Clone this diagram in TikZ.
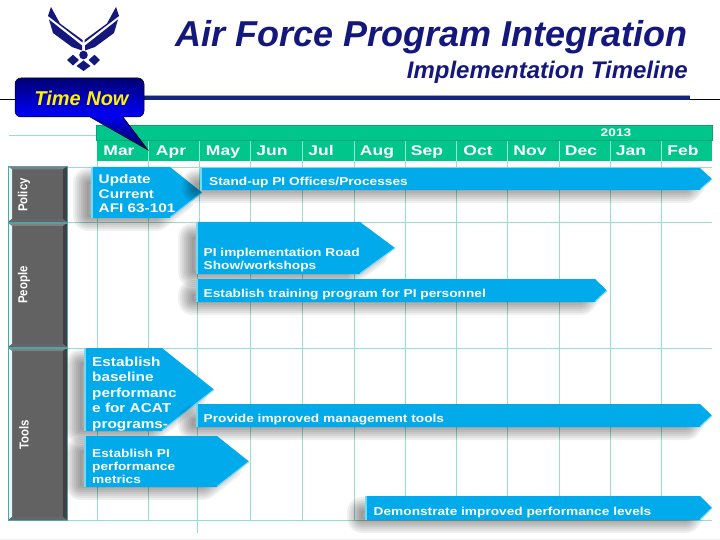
\documentclass[tikz,border=0pt]{standalone}
\usepackage{fontspec}
\setmainfont{Liberation Sans}
\usepackage{tikz}
\usetikzlibrary{positioning}
\definecolor{navyTitle}{RGB}{20,24,125}
\definecolor{ruleNavy}{RGB}{22,38,115}
\definecolor{headGreen}{RGB}{0,198,140}
\definecolor{gridGreen}{RGB}{150,222,205}
\definecolor{barBlue}{RGB}{0,170,235}
\definecolor{barEdge}{RGB}{110,220,250}
\definecolor{rowGrey}{RGB}{98,98,98}
\tikzstyle{gridline} = [gridGreen, line width=0.8pt]
\tikzstyle{titleText} = [navyTitle, font=\bfseries\itshape, inner sep=0pt]
\tikzstyle{monthSep} = [white!60!headGreen, line width=0.8pt]
\tikzstyle{monthText} = [white, font=\bfseries\fontsize{14}{14}\selectfont, xscale=1.25, inner sep=0pt, anchor=base]
\tikzstyle{rowText} = [white, font=\bfseries\fontsize{13}{13}\selectfont, rotate=90, xscale=0.88, inner sep=0pt]
\tikzstyle{taskText} = [white, font=\bfseries\fontsize{11.5}{13}\selectfont, align=left, anchor=west, xscale=1.19, inner sep=0pt]
\tikzstyle{bigTask} = [white, font=\bfseries\fontsize{13}{15.4}\selectfont, align=left, anchor=west, xscale=1.18, inner sep=0pt]
\newcommand{\taskbar}[5]{%
    \foreach \w in {30,26,22,18,14,10,6,2} {
        \draw [black, opacity=0.06, line width=\w pt, line join=round, xshift=-10pt, yshift=-5pt]
            (#1+7,#2+11) -- (#4-4,#2+11) -- (#5-12,{(#2+#3)/2}) -- (#4-4,#3-7) -- (#1+7,#3-7) -- cycle;
    }
    \fill [barBlue] (#1,#2) -- (#4,#2) -- (#5,{(#2+#3)/2}) -- (#4,#3) -- (#1,#3) -- cycle;
    \draw [barEdge, line width=2pt] (#1+1,#2) -- (#1+1,#3);
    \draw [barEdge, line width=1pt] (#5,{(#2+#3)/2}) -- (#4,#3-0.5);
}
\newcommand{\rowbox}[2]{%
    \fill [rowGrey] (8,#1) rectangle (67,#2);
    \fill [black!50] (8,#1) -- (12,#1+3) -- (63,#1+3) -- (67,#1) -- cycle;
    \fill [white!75!gridGreen] (8,#1) -- (12,#1+3) -- (12,#2-3) -- (8,#2) -- cycle;
    \fill [black!75] (67,#1) -- (63,#1+3) -- (63,#2-3) -- (67,#2) -- cycle;
    \fill [black!60] (8,#2) -- (12,#2-3) -- (63,#2-3) -- (67,#2) -- cycle;
    \draw [teal!70, line width=0.6pt] (8,#1) rectangle (67,#2);
}
\begin{document}
\begin{tikzpicture}[x=1pt, y=-1pt]
    \useasboundingbox (0,0) rectangle (720,540);
    \fill [black!6] (0,538.5) rectangle (720,540);

    \fill [navyTitle] (51,7) -- (48,16) -- (82.5,42.5) -- (82.5,40) -- (60,23.5) -- cycle;
    \fill [navyTitle] (49,19.5) -- (82,45.5) -- (82,50.5) -- (72,47) -- (53,33) -- cycle;
    \fill [navyTitle] (116,7) -- (119,16) -- (84.5,42.5) -- (84.5,40) -- (107,23.5) -- cycle;
    \fill [navyTitle] (118,19.5) -- (85,45.5) -- (85,50.5) -- (95,47) -- (114,33) -- cycle;
    \fill [navyTitle] (83.5,55) circle (4.3);
    \fill [navyTitle] (67,60) -- (73,54.8) -- (79,60) -- (73,65.5) -- cycle;
    \fill [navyTitle] (88.5,60) -- (94.5,54.8) -- (100,60) -- (94.5,65.5) -- cycle;
    \fill [navyTitle] (76.5,66) -- (83.5,60.5) -- (90.5,66) -- (83.5,71) -- cycle;

    \node (title) [titleText, anchor=base east, font=\bfseries\itshape\fontsize{36}{36}\selectfont] at (688,47) {Air Force Program Integration};
    \node (subtitle) [titleText, anchor=base east, font=\bfseries\itshape\fontsize{24}{24}\selectfont] at (688,79) {Implementation Timeline};

    \draw [black, line width=0.7pt] (0,99) -- (720,99);
    \fill [ruleNavy] (140,95) rectangle (690,100);
    \draw [blue!40, line width=0.6pt] (140,95) -- (690,95);

    \draw [gridline] (9,135) -- (97,135);
    \draw [gridline] (8,167) -- (712,167);
    \draw [gridline] (8,222.5) -- (712,222.5);
    \draw [gridline] (8,348) -- (712,348);
    \draw [gridline] (8,520) -- (712,520);
    \draw [gridline] (97,161) -- (97,520);
    \draw [gridline] (148,161) -- (148,520);
    \draw [gridline] (199,161) -- (199,222);
    \draw [gridline] (197,222) -- (197,533);
    \draw [gridline] (250,161) -- (250,520);
    \draw [gridline] (302,161) -- (302,520);
    \draw [gridline] (354,161) -- (354,520);
    \draw [gridline] (405,161) -- (405,520);
    \draw [gridline] (456,161) -- (456,520);
    \draw [gridline] (507,161) -- (507,520);
    \draw [gridline] (559,161) -- (559,520);
    \draw [gridline] (610,161) -- (610,520);
    \draw [gridline] (661,161) -- (661,520);

    \fill [headGreen!85!black] (96,125) rectangle (713,141);
    \fill [headGreen] (97,126) rectangle (712,140);
    \fill [headGreen] (97,141) rectangle (712,161);
    \draw [monthSep] (148,141) -- (148,161);
    \draw [monthSep] (199,141) -- (199,161);
    \draw [monthSep] (250,141) -- (250,161);
    \draw [monthSep] (302,141) -- (302,161);
    \draw [monthSep] (354,141) -- (354,161);
    \draw [monthSep] (405,141) -- (405,161);
    \draw [monthSep] (456,141) -- (456,161);
    \draw [monthSep] (507,141) -- (507,161);
    \draw [monthSep] (559,141) -- (559,161);
    \draw [monthSep] (610,141) -- (610,161);
    \draw [monthSep] (661,141) -- (661,161);
    \node (year) [white, font=\bfseries\fontsize{11}{11}\selectfont, xscale=1.25, inner sep=0pt] at (616,132.5) {2013};
    \node (mar) [monthText] at (119,156) {Mar};
    \node (apr) [monthText] at (171,156) {Apr};
    \node (may) [monthText] at (223,156) {May};
    \node (jun) [monthText] at (272,156) {Jun};
    \node (jul) [monthText] at (321,156) {Jul};
    \node (aug) [monthText] at (377,156) {Aug};
    \node (sep) [monthText] at (427,156) {Sep};
    \node (oct) [monthText] at (478,156) {Oct};
    \node (nov) [monthText] at (530,156) {Nov};
    \node (dec) [monthText] at (581,156) {Dec};
    \node (jan) [monthText] at (631,156) {Jan};
    \node (feb) [monthText] at (683,156) {Feb};

    \rowbox{166.5}{222}
    \rowbox{223}{347}
    \rowbox{348}{520}
    \node (policy) [rowText] at (24,195) {Policy};
    \node (people) [rowText] at (24,285) {People};
    \node (tools) [rowText] at (24,435) {Tools};

    \taskbar{91}{167}{218}{170}{202}
    \taskbar{200}{168}{190}{700}{712}
    \taskbar{196}{222}{274}{360}{395}
    \taskbar{196}{279}{302}{595}{607}
    \taskbar{84}{348}{431}{162}{214}
    \taskbar{196}{404}{427}{700}{712}
    \taskbar{84}{436}{487}{217}{249}
    \taskbar{365}{496}{520}{700}{712}

    \node (update) [taskText, font=\bfseries\fontsize{12.5}{14.5}\selectfont, xscale=1.03] at (98.5,194) {Update\\Current\\AFI 63-101};
    \node (standup) [taskText] at (209,183) {Stand-up PI Offices/Processes};
    \node (road) [taskText] at (203.5,260.5) {PI implementation Road\\Show/workshops};
    \node (training) [taskText] at (203.5,295) {Establish training program for PI personnel};
    \node (baseline) [bigTask] at (92,394) {Establish\\baseline\\performanc\\e for ACAT\\programs-};
    \node (improved) [taskText] at (203.5,420) {Provide improved management tools};
    \node (metrics) [taskText] at (92,466) {Establish PI\\performance\\metrics};
    \node (levels) [taskText] at (373.5,513) {Demonstrate improved performance levels};

    \draw [top color=blue!45!black, bottom color=blue!35!black, middle color=blue!95!black, draw=black, line width=0.5pt, rounded corners=6pt]
        (15,78) -- (144,78) -- (144,117) [sharp corners] -- (123,117) -- (148,150) -- (90,117) [rounded corners=6pt] -- (15,117) -- cycle;
    \node (timenow) [yellow, font=\bfseries\itshape\fontsize{20}{20}\selectfont, inner sep=0pt] at (81.5,98) {Time Now};
\end{tikzpicture}
\end{document}
